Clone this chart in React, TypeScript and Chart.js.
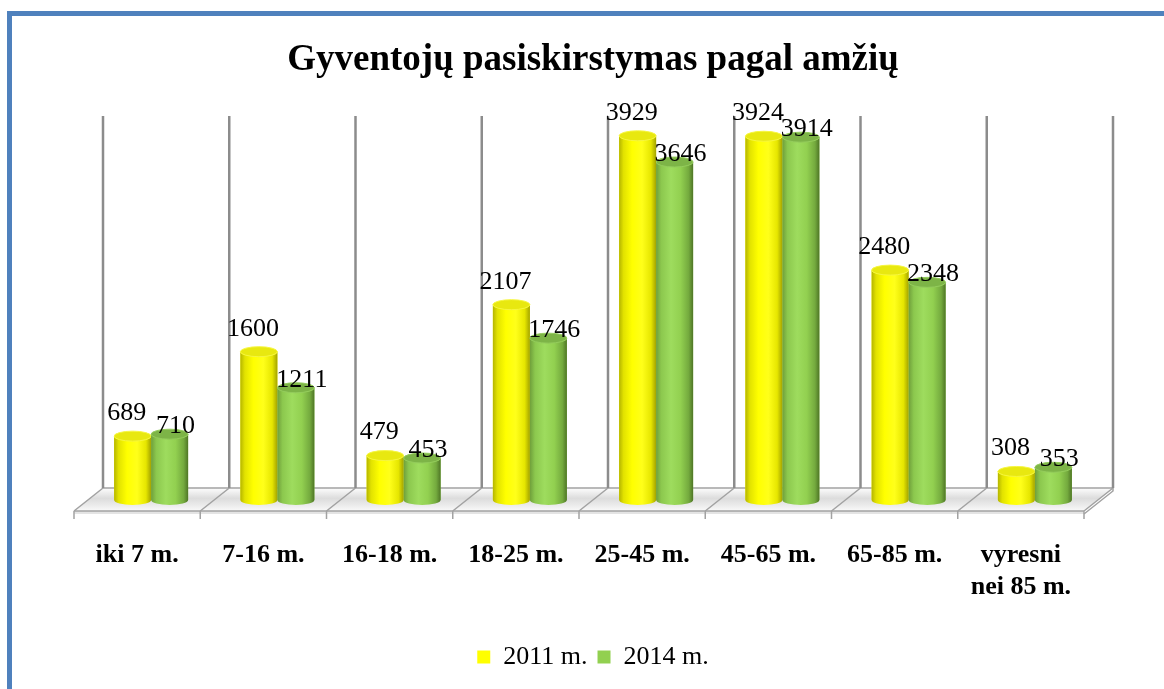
import React, { useEffect, useRef } from 'react';
import { Chart, registerables } from 'chart.js';

Chart.register(...registerables);

const chartTitle = 'Gyventojų pasiskirstymas pagal amžių';
const categories: (string | string[])[] = [
  'iki 7 m.',
  '7-16 m.',
  '16-18 m.',
  '18-25 m.',
  '25-45 m.',
  '45-65 m.',
  '65-85 m.',
  ['vyresni', 'nei 85 m.'],
];
const seriesNames = ['2011 m.', '2014 m.'];
const values2011 = [689, 1600, 479, 2107, 3929, 3924, 2480, 308];
const values2014 = [710, 1211, 453, 1746, 3646, 3914, 2348, 353];

const SERIF = '"Liberation Serif", "Times New Roman", serif';

const cylStyles = [
  {
    flat: '#ffff00',
    stops: [
      [0, '#b5b500'],
      [0.12, '#e2e200'],
      [0.35, '#ffff00'],
      [0.62, '#ffff1a'],
      [0.86, '#e6e600'],
      [1, '#a3a300'],
    ],
    top: '#e8e810',
    topEdge: '#f6f640',
  },
  {
    flat: '#92d050',
    stops: [
      [0, '#6f9f3b'],
      [0.14, '#8cc84e'],
      [0.4, '#9edc5e'],
      [0.66, '#92d050'],
      [0.88, '#74aa3e'],
      [1, '#4f7626'],
    ],
    top: '#7db447',
    topEdge: '#94cc5c',
  },
];

const labelOffsets = [
  { dx: -6, dy: -23 },
  { dx: 6, dy: -8 },
];

const floor3d = {
  id: 'floor3d',
  beforeDatasetsDraw(chart: any) {
    const { ctx, chartArea } = chart;
    const yScale = chart.scales.y;
    const n = chart.data.labels.length;
    const left = chartArea.left;
    const right = chartArea.right;
    const step = (right - left) / n;
    const base = yScale.getPixelForValue(0);
    const frontY = base + 11;
    const backY = base - 12;
    const dxF = -14;
    const dxB = 15;
    const wallTop = 116;

    ctx.save();
    const fg = ctx.createLinearGradient(0, backY, 0, frontY);
    fg.addColorStop(0, '#fdfdfd');
    fg.addColorStop(0.45, '#dcdcdc');
    fg.addColorStop(0.8, '#eeeeee');
    fg.addColorStop(1, '#fafafa');
    ctx.beginPath();
    ctx.moveTo(left + dxF, frontY);
    ctx.lineTo(right + dxF, frontY);
    ctx.lineTo(right + dxB, backY);
    ctx.lineTo(left + dxB, backY);
    ctx.closePath();
    ctx.fillStyle = fg;
    ctx.fill();

    ctx.fillStyle = '#e4e4e4';
    ctx.fillRect(left + dxF, frontY, right - left, 3);

    ctx.strokeStyle = '#a2a2a2';
    ctx.lineWidth = 1.5;
    ctx.beginPath();
    ctx.moveTo(left + dxF, frontY);
    ctx.lineTo(right + dxF, frontY);
    ctx.moveTo(left + dxB, backY);
    ctx.lineTo(right + dxB, backY);
    ctx.moveTo(right + dxF, frontY + 3);
    ctx.lineTo(right + dxB, backY + 3);
    ctx.lineTo(right + dxB, backY);
    ctx.stroke();

    for (let i = 0; i <= n; i++) {
      const b = left + i * step;
      ctx.strokeStyle = '#a2a2a2';
      ctx.lineWidth = 1.5;
      ctx.beginPath();
      ctx.moveTo(b + dxF, frontY);
      ctx.lineTo(b + dxB, backY);
      ctx.moveTo(b + dxF, frontY);
      ctx.lineTo(b + dxF, frontY + 8);
      ctx.stroke();
      ctx.strokeStyle = '#8c8c8c';
      ctx.lineWidth = 2.5;
      ctx.beginPath();
      ctx.moveTo(b + dxB, wallTop);
      ctx.lineTo(b + dxB, backY);
      ctx.stroke();
    }
    ctx.restore();
  },
  afterDatasetsDraw(chart: any) {
    const { ctx } = chart;
    ctx.save();
    chart.data.datasets.forEach((ds: any, di: number) => {
      const meta = chart.getDatasetMeta(di);
      const st = cylStyles[di];
      meta.data.forEach((bar: any) => {
        const { x, y, base, width } = bar.getProps(['x', 'y', 'base', 'width'], true);
        const l = x - width / 2;
        const r = x + width / 2;
        const ry = 5;
        const g = ctx.createLinearGradient(l, 0, r, 0);
        st.stops.forEach((s: any) => g.addColorStop(s[0], s[1]));
        ctx.beginPath();
        ctx.moveTo(l, y);
        ctx.lineTo(l, base);
        ctx.ellipse(x, base, width / 2, ry, 0, Math.PI, 0, true);
        ctx.lineTo(r, y);
        ctx.ellipse(x, y, width / 2, ry, 0, 0, Math.PI, false);
        ctx.closePath();
        ctx.fillStyle = g;
        ctx.fill();
        ctx.beginPath();
        ctx.ellipse(x, y, width / 2, ry, 0, 0, Math.PI * 2);
        ctx.fillStyle = st.top;
        ctx.fill();
        ctx.strokeStyle = st.topEdge;
        ctx.lineWidth = 1;
        ctx.stroke();
      });
    });
    ctx.fillStyle = '#000000';
    ctx.font = `26px ${SERIF}`;
    ctx.textAlign = 'center';
    ctx.textBaseline = 'middle';
    chart.data.datasets.forEach((ds: any, di: number) => {
      const meta = chart.getDatasetMeta(di);
      const off = labelOffsets[di];
      meta.data.forEach((bar: any, i: number) => {
        const { x, y } = bar.getProps(['x', 'y'], true);
        ctx.fillText(String(ds.data[i]), x + off.dx, y + off.dy);
      });
    });
    ctx.restore();
  },
};

export default function App() {
  const canvasRef = useRef<HTMLCanvasElement | null>(null);

  useEffect(() => {
    const canvas = canvasRef.current;
    if (!canvas) return;
    const chart = new Chart(canvas, {
      type: 'bar',
      data: {
        labels: categories,
        datasets: [
          {
            label: seriesNames[0],
            data: values2011,
            backgroundColor: cylStyles[0].flat,
            borderWidth: 0,
            categoryPercentage: 0.586,
            barPercentage: 1,
          },
          {
            label: seriesNames[1],
            data: values2014,
            backgroundColor: cylStyles[1].flat,
            borderWidth: 0,
            categoryPercentage: 0.586,
            barPercentage: 1,
          },
        ],
      },
      options: {
        responsive: false,
        animation: false,
        devicePixelRatio: 1,
        layout: { padding: { left: 88, right: 66, top: 0, bottom: 9 } },
        scales: {
          x: {
            grid: { display: false, drawTicks: false },
            border: { display: false },
            ticks: {
              color: '#000000',
              font: { family: SERIF, size: 26, weight: 'bold', lineHeight: 1.2 },
              padding: 40,
              labelOffset: -14,
              maxRotation: 0,
              autoSkip: false,
            },
            afterFit(scale: any) {
              scale.height = 134;
            },
          },
          y: {
            display: false,
            min: 0,
            max: 4000,
          },
        },
        plugins: {
          title: {
            display: true,
            text: chartTitle,
            color: '#000000',
            font: { family: SERIF, size: 37, weight: 'bold', lineHeight: 1.2 },
            padding: { top: 37.8, bottom: 47 },
          },
          legend: {
            display: true,
            position: 'bottom',
            labels: {
              color: '#000000',
              font: { family: SERIF, size: 26 },
              boxWidth: 13,
              boxHeight: 13,
              padding: 10,
            },
          },
          tooltip: { enabled: false },
        },
      },
      plugins: [floor3d],
    } as any);
    return () => chart.destroy();
  }, []);

  return (
    <div
      style={{
        position: 'fixed',
        left: 0,
        top: 0,
        width: 1164,
        height: 689,
        overflow: 'hidden',
        background: '#ffffff',
      }}
    >
      <div
        style={{
          position: 'absolute',
          left: 7,
          top: 11,
          width: 1300,
          height: 900,
          border: '5px solid #4f81bd',
          boxSizing: 'border-box',
        }}
      />
      <canvas
        ref={canvasRef}
        width={1164}
        height={689}
        style={{ position: 'absolute', left: 0, top: 0, width: 1164, height: 689 }}
      />
    </div>
  );
}
